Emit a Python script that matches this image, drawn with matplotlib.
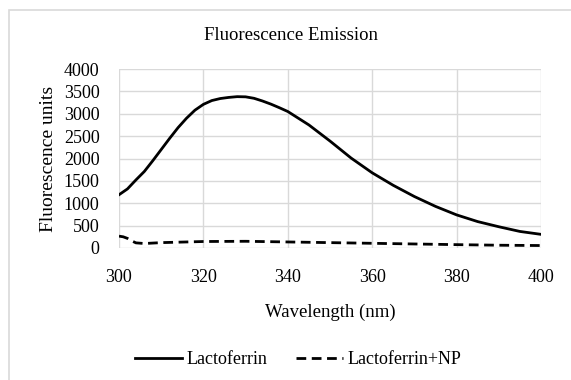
import matplotlib
matplotlib.use("Agg")
import matplotlib.pyplot as plt
from matplotlib.patches import Rectangle

plt.rcParams['font.family'] = ['Liberation Serif', 'DejaVu Serif']

# wavelengths (nm) and readings
wavelength = [300, 302, 304, 306, 308, 310, 312, 314, 316, 318, 320, 322, 324,
              326, 328, 330, 332, 334, 336, 338, 340, 345, 350, 355, 360, 365,
              370, 375, 380, 385, 390, 395, 400]
lactoferrin = [1190, 1320, 1520, 1710, 1950, 2200, 2450, 2690, 2900, 3080, 3210,
               3295, 3340, 3365, 3382, 3378, 3345, 3285, 3215, 3135, 3050, 2750,
               2390, 2010, 1680, 1400, 1150, 930, 740, 590, 475, 370, 305]

wavelength_np = [300, 301, 302, 303, 304, 306, 310, 320, 330, 340, 350,
                 360, 370, 380, 390, 400]
lactoferrin_np = [265, 250, 215, 160, 115, 100, 120, 145, 150, 135, 120,
                  105, 90, 75, 62, 55]

series_names = ['Lactoferrin', 'Lactoferrin+NP']
x_ticks = [300, 320, 340, 360, 380, 400]
y_ticks = list(range(0, 4001, 500))

fig = plt.figure(figsize=(5.71, 3.80), dpi=100)
ax = fig.add_axes([119 / 571, 1 - 248 / 380, 422 / 571, 179 / 380])

ax.plot(wavelength, lactoferrin, color='black', lw=2.0,
        solid_joinstyle='round', label=series_names[0])
ax.plot(wavelength_np, lactoferrin_np, color='black', lw=2.0,
        ls=(0, (3.5, 2)), label=series_names[1])

ax.set_xlim(300, 400)
ax.set_ylim(0, 4000)
ax.set_xticks(x_ticks)
ax.set_yticks(y_ticks)
ax.grid(True, color='#d9d9d9', lw=1)
ax.set_axisbelow(True)
for s in ax.spines.values():
    s.set_visible(False)
ax.tick_params(length=0, labelsize=13, pad=14)
ax.tick_params(axis='x', pad=15)

ax.set_xlabel('Wavelength (nm)', fontsize=13.5, labelpad=13)
ax.set_ylabel('Fluorescence units', fontsize=14, labelpad=5)
fig.text(291 / 571, 1 - 36 / 380, 'Fluorescence Emission', fontsize=13.5,
         ha='center', va='center')

fig.legend(loc='center', bbox_to_anchor=(298 / 571, 1 - 360 / 380), ncol=2,
           frameon=False, fontsize=13, handlelength=2.6, handletextpad=0.25,
           columnspacing=1.6)

# chart area border (only top and left edges are inside the picture)
fig.patches.append(Rectangle((9 / 571, -0.1), 1.2, 1 - 10 / 380 + 0.1,
                             transform=fig.transFigure, fill=False,
                             ec='#d9d9d9', lw=1.2))

fig.savefig('out.png', dpi=100)
